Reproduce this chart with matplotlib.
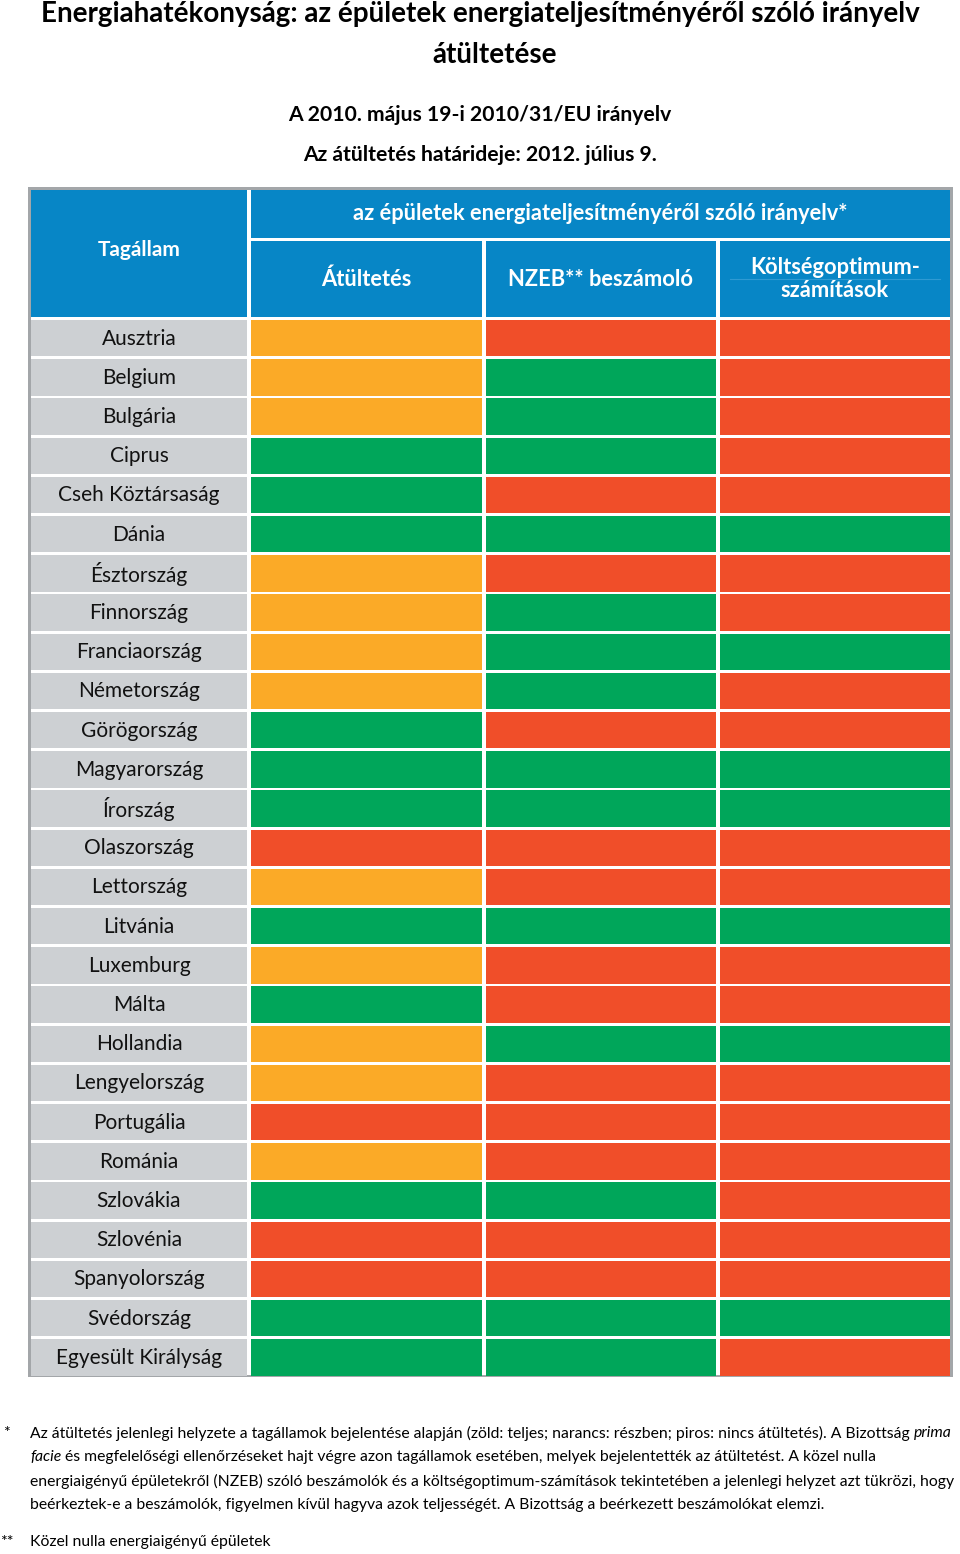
import matplotlib.pyplot as plt
from matplotlib.patches import Rectangle

# --- data ---------------------------------------------------------------
countries = ["Ausztria", "Belgium", "Bulgária", "Ciprus", "Cseh Köztársaság",
             "Dánia", "Észtország", "Finnország", "Franciaország", "Németország",
             "Görögország", "Magyarország", "Írország", "Olaszország",
             "Lettország", "Litvánia", "Luxemburg", "Málta", "Hollandia",
             "Lengyelország", "Portugália", "Románia", "Szlovákia", "Szlovénia",
             "Spanyolország", "Svédország", "Egyesült Királyság"]

# g = teljes, o = részben, r = nincs
atultetes = ["o", "o", "o", "g", "g", "g", "o", "o", "o", "o", "g", "g", "g", "r",
             "o", "g", "o", "g", "o", "o", "r", "o", "g", "r", "r", "g", "g"]
nzeb = ["r", "g", "g", "g", "r", "g", "r", "g", "g", "g", "r", "g", "g", "r",
        "r", "g", "r", "r", "g", "r", "r", "r", "g", "r", "r", "g", "g"]
koltseg = ["r", "r", "r", "r", "r", "g", "r", "r", "g", "r", "r", "g", "g", "r",
           "r", "g", "r", "r", "g", "r", "r", "r", "r", "r", "r", "g", "r"]

col_headers = ["Átültetés", "NZEB** beszámoló", "Költségoptimum-\nszámítások"]

title1 = "Energiahatékonyság: az épületek energiateljesítményéről szóló irányelv"
title2 = "átültetése"
subtitle1 = "A 2010. május 19-i 2010/31/EU irányelv"
subtitle2 = "Az átültetés határideje: 2012. július 9."
group_header = "az épületek energiateljesítményéről szóló irányelv*"

foot_lines = [
    "Az átültetés jelenlegi helyzete a tagállamok bejelentése alapján (zöld: teljes; narancs: részben; piros: nincs átültetés). A Bizottság ",
    " és megfelelőségi ellenőrzéseket hajt végre azon tagállamok esetében, melyek bejelentették az átültetést. A közel nulla",
    "energiaigényű épületekről (NZEB) szóló beszámolók és a költségoptimum-számítások tekintetében a jelenlegi helyzet azt tükrözi, hogy",
    "beérkeztek-e a beszámolók, figyelmen kívül hagyva azok teljességét. A Bizottság a beérkezett beszámolókat elemzi.",
]
foot2 = "Közel nulla energiaigényű épületek"

colors = {"g": "#00A65A", "o": "#FBAA27", "r": "#F04E29"}
blue = "#0786C6"
label_bg = "#CDD0D3"
border = "#A3A6A9"

plt.rcParams["font.family"] = ["Lato", "DejaVu Sans"]

# --- figure -------------------------------------------------------------
fig = plt.figure(figsize=(9.6, 15.54), dpi=100)
ax = fig.add_axes([0, 0, 1, 1])
ax.set_xlim(0, 960)
ax.set_ylim(1554, 0)
ax.axis("off")
renderer = fig.canvas.get_renderer()
inv = ax.transData.inverted()


def fit(t, width):
    # shrink/grow a text so that it spans the given width in pixels
    bb = t.get_window_extent(renderer)
    t.set_fontsize(t.get_fontsize() * width / bb.width)
    return t


def right_edge(t):
    bb = t.get_window_extent(renderer)
    return inv.transform((bb.x1, bb.y0))[0]


t = ax.text(480, 14, title1, ha="center", va="center", fontsize=18, fontweight="bold")
fit(t, 880)
tsize = t.get_fontsize()
ax.text(495, 55, title2, ha="center", va="center", fontsize=tsize, fontweight="bold")
t = ax.text(480, 115, subtitle1, ha="center", va="center", fontsize=15, fontweight="bold")
fit(t, 383)
ax.text(480, 155, subtitle2, ha="center", va="center", fontsize=t.get_fontsize(),
        fontweight="bold")

# table frame
ax.add_patch(Rectangle((28, 187), 925, 1190, color=border, lw=0))
ax.add_patch(Rectangle((31, 190), 919, 1185, color="white", lw=0))

col_x = [(31, 247), (251, 482), (486, 716), (720, 950)]

# header
hs = 15
ax.add_patch(Rectangle((31, 190), 216, 127, color=blue, lw=0))
ax.add_patch(Rectangle((251, 190), 699, 48, color=blue, lw=0))
ax.text(139, 250, "Tagállam", ha="center", va="center", color="white",
        fontsize=hs, fontweight="bold")
t = ax.text(600, 214, group_header, ha="center", va="center", color="white",
            fontsize=hs, fontweight="bold")
fit(t, 496)
hs = t.get_fontsize()
for (x0, x1), h in zip(col_x[1:], col_headers):
    ax.add_patch(Rectangle((x0, 241), x1 - x0, 76, color=blue, lw=0))
    ax.text((x0 + x1) / 2, 279, h, ha="center", va="center", color="white",
            fontsize=hs, fontweight="bold", linespacing=1.1)
ax.plot([730, 940], [279, 279], color="#2F9AD3", lw=0.8)

# body
row_h = 39.2
t = ax.text(-500, -500, "Cseh Köztársaság", fontsize=15)
fit(t, 162)
ls = t.get_fontsize()
t.remove()
for i, name in enumerate(countries):
    y = 320 + i * row_h
    ax.add_patch(Rectangle((31, y), 216, row_h - 2.8, color=label_bg, lw=0))
    ax.text(139, y + row_h / 2 - 1, name, ha="center", va="center",
            fontsize=ls, color="#111111")
    for (x0, x1), status in zip(col_x[1:], (atultetes[i], nzeb[i], koltseg[i])):
        ax.add_patch(Rectangle((x0, y), x1 - x0, row_h - 2.8,
                               color=colors[status], lw=0))

# footnotes
t = ax.text(30, 1481, foot_lines[2], ha="left", va="center", fontsize=11)
fit(t, 920)
fs = t.get_fontsize()
ax.text(3, 1433, "*", ha="left", va="center", fontsize=fs)
t = ax.text(30, 1433, foot_lines[0], ha="left", va="center", fontsize=fs)
ax.text(right_edge(t), 1433, "prima", ha="left", va="center", fontsize=fs,
        style="italic")
t = ax.text(30, 1457, "facie", ha="left", va="center", fontsize=fs, style="italic")
ax.text(right_edge(t), 1457, foot_lines[1], ha="left", va="center", fontsize=fs)
ax.text(30, 1505, foot_lines[3], ha="left", va="center", fontsize=fs)
ax.text(0, 1542, "**", ha="left", va="center", fontsize=fs)
ax.text(30, 1542, foot2, ha="left", va="center", fontsize=fs)

fig.savefig("out.png", dpi=100)
